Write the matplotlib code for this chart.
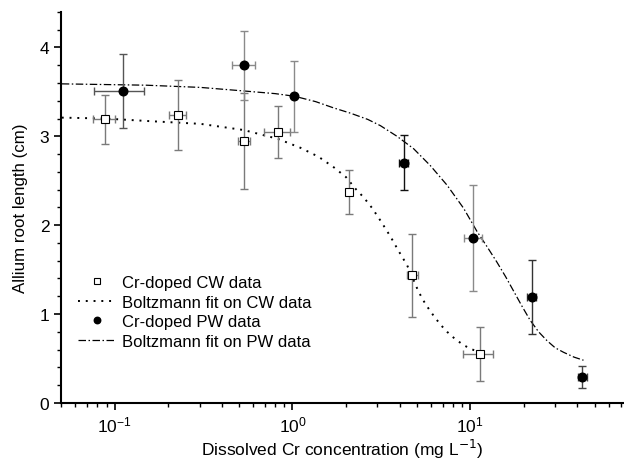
import matplotlib
matplotlib.use("Agg")
import matplotlib.pyplot as plt
from matplotlib.ticker import LogLocator, MultipleLocator, NullFormatter

plt.rcParams['font.family'] = ['Liberation Sans', 'DejaVu Sans']

# CW data (open squares)
cw_x = [0.088, 0.226, 0.536, 0.827, 2.08, 4.72, 11.3]
cw_y = [3.19, 3.24, 2.95, 3.05, 2.37, 1.435, 0.55]
cw_yerr = [0.28, 0.39, 0.54, 0.29, 0.25, 0.47, 0.30]
cw_xerr = [0.0125, 0.025, 0.04, 0.14, 0.04, 0.33, 2.2]

# PW data (filled circles)
pw_x = [0.112, 0.536, 1.02, 4.22, 10.4, 22.1, 42.6]
pw_y = [3.51, 3.80, 3.45, 2.70, 1.855, 1.19, 0.29]
pw_yerr = [0.42, 0.39, 0.40, 0.31, 0.60, 0.42, 0.12]
pw_xerr = [0.035, 0.08, 0.03, 0.25, 1.2, 1.2, 2.5]

# Boltzmann fit curves
cw_fit_x = [0.0504, 0.0879, 0.159, 0.304, 0.533, 0.831, 1.11, 1.40, 1.71, 2.00,
            2.26, 2.52, 2.81, 3.15, 3.56, 3.95, 4.41, 4.75, 5.12, 5.60,
            6.22, 6.80, 7.40, 8.20, 9.17, 10.0, 10.9]
cw_fit_y = [3.21, 3.20, 3.17, 3.14, 3.07, 2.97, 2.87, 2.77, 2.65, 2.54,
            2.41, 2.31, 2.19, 2.04, 1.87, 1.71, 1.55, 1.40, 1.25, 1.11,
            0.98, 0.88, 0.80, 0.72, 0.65, 0.61, 0.58]
pw_fit_x = [0.0504, 0.150, 0.304, 0.533, 0.80, 1.03, 1.35, 1.70, 2.12, 2.65,
            3.12, 3.87, 4.80, 5.96, 7.40, 9.17, 10.9, 12.4, 14.1, 15.8,
            17.5, 19.5, 21.7, 24.2, 27.0, 30.0, 33.4, 38.3, 43.3]
pw_fit_y = [3.59, 3.575, 3.55, 3.51, 3.48, 3.45, 3.39, 3.32, 3.26, 3.19,
            3.12, 3.00, 2.86, 2.67, 2.45, 2.19, 1.93, 1.76, 1.585, 1.42,
            1.26, 1.09, 0.93, 0.80, 0.70, 0.62, 0.57, 0.515, 0.48]

# tick values
y_ticks = [0, 1, 2, 3, 4]

pw_err_colors = ['#555555', '#8a8a8a', '#8a8a8a', '#111111', '#8a8a8a', '#333333', '#444444']
cw_err_color = '#7a7a7a'

fig = plt.figure(figsize=(6.24, 4.6), dpi=100)
ax = fig.add_axes([0.098, 0.122, 0.900, 0.850])

ax.plot(cw_fit_x, cw_fit_y, color='black', lw=1.4, linestyle=(0, (1, 3)),
        label='Boltzmann fit on CW data', zorder=2)
ax.plot(pw_fit_x, pw_fit_y, color='black', lw=0.9, linestyle=(0, (6, 2, 1.2, 2)),
        label='Boltzmann fit on PW data', zorder=2)

for i in range(len(cw_x)):
    ax.errorbar([cw_x[i]], [cw_y[i]], yerr=[cw_yerr[i]], xerr=[cw_xerr[i]],
                fmt='none', ecolor=cw_err_color, elinewidth=1.0, capsize=3.2,
                capthick=1.0, zorder=3)
for i in range(len(pw_x)):
    ax.errorbar([pw_x[i]], [pw_y[i]], yerr=[pw_yerr[i]], xerr=[pw_xerr[i]],
                fmt='none', ecolor=pw_err_colors[i], elinewidth=1.0, capsize=3.2,
                capthick=1.0, zorder=3)

ax.plot(cw_x, cw_y, linestyle='none', marker='s', markersize=5.2,
        markerfacecolor='white', markeredgecolor='black', markeredgewidth=0.8,
        label='Cr-doped CW data', zorder=4)
ax.plot(pw_x, pw_y, linestyle='none', marker='o', markersize=6.2,
        markerfacecolor='black', markeredgecolor='black',
        label='Cr-doped PW data', zorder=4)

ax.set_xscale('log')
ax.set_xlim(0.05, 72)
ax.set_ylim(0, 4.4)
ax.set_yticks(y_ticks)
ax.yaxis.set_minor_locator(MultipleLocator(0.2))
ax.xaxis.set_major_locator(LogLocator(base=10, numticks=10))
ax.xaxis.set_minor_locator(LogLocator(base=10, subs=range(2, 10), numticks=20))
ax.xaxis.set_minor_formatter(NullFormatter())

for s in ['top', 'right']:
    ax.spines[s].set_visible(False)
for s in ['left', 'bottom']:
    ax.spines[s].set_linewidth(1.5)

ax.tick_params(axis='both', which='major', direction='out', length=5, width=1.2,
               labelsize=12.5, pad=3.5)
ax.tick_params(axis='both', which='minor', direction='out', length=2.8, width=1.0)

ax.set_xlabel('Dissolved Cr concentration (mg L$^{-1}$)', fontsize=12.5, labelpad=2)
ax.set_ylabel('Allium root length (cm)', fontsize=12.2, labelpad=8)

handles, labels = ax.get_legend_handles_labels()
order = [2, 0, 3, 1]
leg = ax.legend([handles[i] for i in order], [labels[i] for i in order],
                loc='upper left', bbox_to_anchor=(0.030, 0.327), frameon=False,
                fontsize=12, handlelength=2.25, handletextpad=0.38,
                labelspacing=0.27, borderaxespad=0.0, borderpad=0.0,
                markerscale=0.75)

fig.savefig('out.png', dpi=100)
